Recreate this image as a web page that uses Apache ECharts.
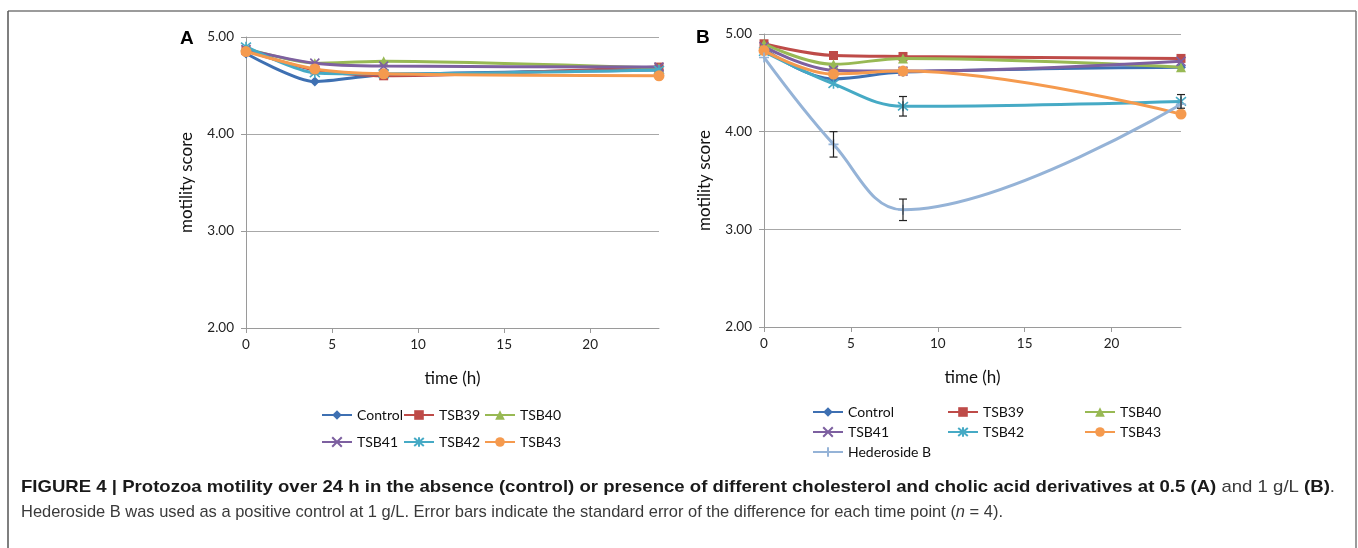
<!DOCTYPE html>
<html><head><meta charset="utf-8">
<script src="https://cdn.jsdelivr.net/npm/echarts@6/dist/echarts.min.js"></script>
<style>html,body{margin:0;padding:0;background:#fff}#c{width:1358px;height:548px}</style>
</head><body><div id="c"></div>
<script>
// ---- data ----
const times = [0, 4, 8, 24];
const xTicks = [0, 5, 10, 15, 20];
const yTicks = [2, 3, 4, 5];
const names = ['Control', 'TSB39', 'TSB40', 'TSB41', 'TSB42', 'TSB43', 'Hederoside B'];
// Panel A (0.5 g/L)
const A_Control = [4.83, 4.54, 4.61, 4.66];
const A_TSB39   = [4.86, 4.66, 4.60, 4.69];
const A_TSB40   = [4.88, 4.73, 4.75, 4.68];
const A_TSB41   = [4.87, 4.73, 4.70, 4.69];
const A_TSB42   = [4.90, 4.63, 4.62, 4.66];
const A_TSB43   = [4.85, 4.67, 4.62, 4.60];
// Panel B (1 g/L)
const B_Control = [4.85, 4.54, 4.61, 4.66];
const B_TSB39   = [4.90, 4.78, 4.77, 4.75];
const B_TSB40   = [4.90, 4.69, 4.75, 4.66];
const B_TSB41   = [4.87, 4.63, 4.62, 4.72];
const B_TSB42   = [4.82, 4.49, 4.26, 4.31];
const B_TSB43   = [4.83, 4.59, 4.62, 4.18];
const B_HedB    = [4.76, 3.87, 3.20, 4.28];
// error bars (panel B): time, centre, half-width
const errTime   = [4, 8, 8, 24];
const errCentre = [3.87, 3.20, 4.26, 4.31];
const errHalf   = [0.13, 0.11, 0.10, 0.07];

// ---- styles ----
const colors = ['#3E70B2', '#BE4B48', '#98B954', '#7D60A0', '#46AAC5', '#F59A4E', '#95B3D7'];
const symbols = ['diamond', 'rect', 'triangle',
  'path://M0,0L10,10M10,0L0,10',
  'path://M0,0L10,10M10,0L0,10M5,-1L5,11',
  'circle',
  'path://M5,0L5,10M0,5L10,5'];
const symSizes = [10, 9, 10, 9, 10, 11, 10];
const FONT = 'Lato';

const seriesA = [A_Control, A_TSB39, A_TSB40, A_TSB41, A_TSB42, A_TSB43];
const seriesB = [B_Control, B_TSB39, B_TSB40, B_TSB41, B_TSB42, B_TSB43, B_HedB];

function mkSeries(vals, i, gi, smooth) {
  const stroked = (i === 3 || i === 4 || i === 6);
  return {
    type: 'line', name: names[i], xAxisIndex: gi, yAxisIndex: gi,
    data: times.map((t, k) => [t, vals[k]]),
    smooth: smooth,
    symbol: symbols[i], symbolSize: symSizes[i], showSymbol: true,
    lineStyle: { color: colors[i], width: 3 },
    itemStyle: stroked ? { color: colors[i], borderColor: colors[i], borderWidth: 1.6 }
                       : { color: colors[i], borderWidth: 0 },
    emphasis: { disabled: true }, z: 2 + i
  };
}

function xAxis(gi) {
  return {
    type: 'value', gridIndex: gi, min: 0, max: 24, interval: 5,
    name: 'time (h)', nameLocation: 'middle', nameGap: 42,
    nameTextStyle: { fontFamily: FONT, fontSize: 17, color: '#111' },
    axisLine: { show: true, lineStyle: { color: '#9A9A9A', width: 1 } },
    axisTick: { show: true, length: 5, lineStyle: { color: '#9A9A9A' }, customValues: xTicks },
    axisLabel: { fontFamily: FONT, fontSize: 13.5, color: '#222', margin: 10, customValues: xTicks },
    splitLine: { show: false }
  };
}
function yAxis(gi) {
  return {
    type: 'value', gridIndex: gi, min: 2, max: 5, interval: 1,
    name: 'motility score', nameLocation: 'middle', nameGap: 51, nameRotate: 90,
    nameTextStyle: { fontFamily: FONT, fontSize: 17, color: '#111' },
    axisLine: { show: true, lineStyle: { color: '#9A9A9A', width: 1 } },
    axisTick: { show: true, length: 5, lineStyle: { color: '#9A9A9A' }, customValues: yTicks },
    axisLabel: { fontFamily: FONT, fontSize: 13.5, color: '#222', margin: 12,
                 formatter: v => v.toFixed(2), customValues: yTicks },
    splitLine: { show: true, lineStyle: { color: '#A8A8A8', width: 1 } }
  };
}

const series = [];
seriesA.forEach((v, i) => series.push(mkSeries(v, i, 0, 0.25)));
seriesB.forEach((v, i) => series.push(mkSeries(v, i, 1, 0.38)));
series.push({
  type: 'custom', xAxisIndex: 1, yAxisIndex: 1, z: 20, silent: true,
  data: errTime.map((t, k) => [t, errCentre[k] - errHalf[k], errCentre[k] + errHalf[k]]),
  renderItem: function (params, api) {
    const lo = api.coord([api.value(0), api.value(1)]);
    const hi = api.coord([api.value(0), api.value(2)]);
    const w = 4;
    const st = { stroke: '#222', lineWidth: 1.2 };
    return { type: 'group', children: [
      { type: 'line', shape: { x1: lo[0], y1: lo[1], x2: hi[0], y2: hi[1] }, style: st },
      { type: 'line', shape: { x1: lo[0] - w, y1: lo[1], x2: lo[0] + w, y2: lo[1] }, style: st },
      { type: 'line', shape: { x1: hi[0] - w, y1: hi[1], x2: hi[0] + w, y2: hi[1] }, style: st }
    ]};
  }
});

// legends: one component per item for exact placement
function leg(name, left, top) {
  return { data: [name], left: left, top: top, itemWidth: 30, itemHeight: 12, selectedMode: false,
           textStyle: { fontFamily: FONT, fontSize: 14, color: '#111' }, padding: 0 };
}
const legends = [
  leg('Control', 321, 408), leg('TSB39', 403, 408), leg('TSB40', 484, 408),
  leg('TSB41', 321, 435), leg('TSB42', 403, 435), leg('TSB43', 484, 435),
  leg('Control', 812, 405), leg('TSB39', 947, 405), leg('TSB40', 1084, 405),
  leg('TSB41', 812, 425), leg('TSB42', 947, 425), leg('TSB43', 1084, 425),
  leg('Hederoside B', 812, 445)
];

// caption built from measured segments
const cap1 = [
  { t: 'FIGURE 4 | Protozoa motility over 24 h in the absence (control) or presence of different cholesterol and cholic acid derivatives at 0.5 (A)', f: 'bold' },
  { t: ' and 1 g/L ', f: 'normal' }, { t: '(B)', f: 'bold' }, { t: '.', f: 'normal' }
];
const cap2 = [
  { t: 'Hederoside B was used as a positive control at 1 g/L. Error bars indicate the standard error of the difference for each time point (', f: 'normal' },
  { t: 'n', f: 'italic' }, { t: ' = 4).', f: 'normal' }
];
const ctx = document.createElement('canvas').getContext('2d');
function fontOf(f) { return (f === 'normal' ? '' : f + ' ') + '17px "Liberation Sans"'; }
function capLine(segs, x0, y, targetW) {
  const ws = segs.map(s => { ctx.font = fontOf(s.f); return ctx.measureText(s.t).width; });
  const tot = ws.reduce((a, b) => a + b, 0);
  const sc = targetW / tot;
  let cx = x0; const out = [];
  segs.forEach((s, k) => {
    out.push({ type: 'text', x: cx, y: y, scaleX: sc, silent: true,
      style: { text: s.t, font: fontOf(s.f), fill: s.f === 'bold' ? '#1a1a1a' : '#3a3a3a', verticalAlign: 'middle', align: 'left' } });
    cx += ws[k] * sc;
  });
  return out;
}

const graphic = [
  { type: 'line', shape: { x1: 8, y1: 11, x2: 1356, y2: 11 }, style: { stroke: '#7a7a7a', lineWidth: 1.5 }, silent: true },
  { type: 'line', shape: { x1: 8, y1: 11, x2: 8, y2: 548 }, style: { stroke: '#555', lineWidth: 1.5 }, silent: true },
  { type: 'line', shape: { x1: 1356, y1: 11, x2: 1356, y2: 548 }, style: { stroke: '#7a7a7a', lineWidth: 1.5 }, silent: true },
  { type: 'text', x: 180, y: 39, silent: true, style: { text: 'A', font: 'bold 19px "Liberation Sans"', fill: '#000', verticalAlign: 'middle' } },
  { type: 'text', x: 696, y: 38, silent: true, style: { text: 'B', font: 'bold 19px "Liberation Sans"', fill: '#000', verticalAlign: 'middle' } }
].concat(capLine(cap1, 21, 487, 1314)).concat(capLine(cap2, 21, 512, 982));

const option = {
  animation: false,
  backgroundColor: '#fff',
  grid: [
    { left: 246, top: 37, width: 413, height: 291, containLabel: false },
    { left: 764, top: 34, width: 417, height: 293, containLabel: false }
  ],
  xAxis: [xAxis(0), xAxis(1)],
  yAxis: [yAxis(0), yAxis(1)],
  legend: legends,
  series: series,
  graphic: graphic
};
const chart = echarts.init(document.getElementById('c'), null, { renderer: 'canvas' });
chart.setOption(option);
</script></body></html>
